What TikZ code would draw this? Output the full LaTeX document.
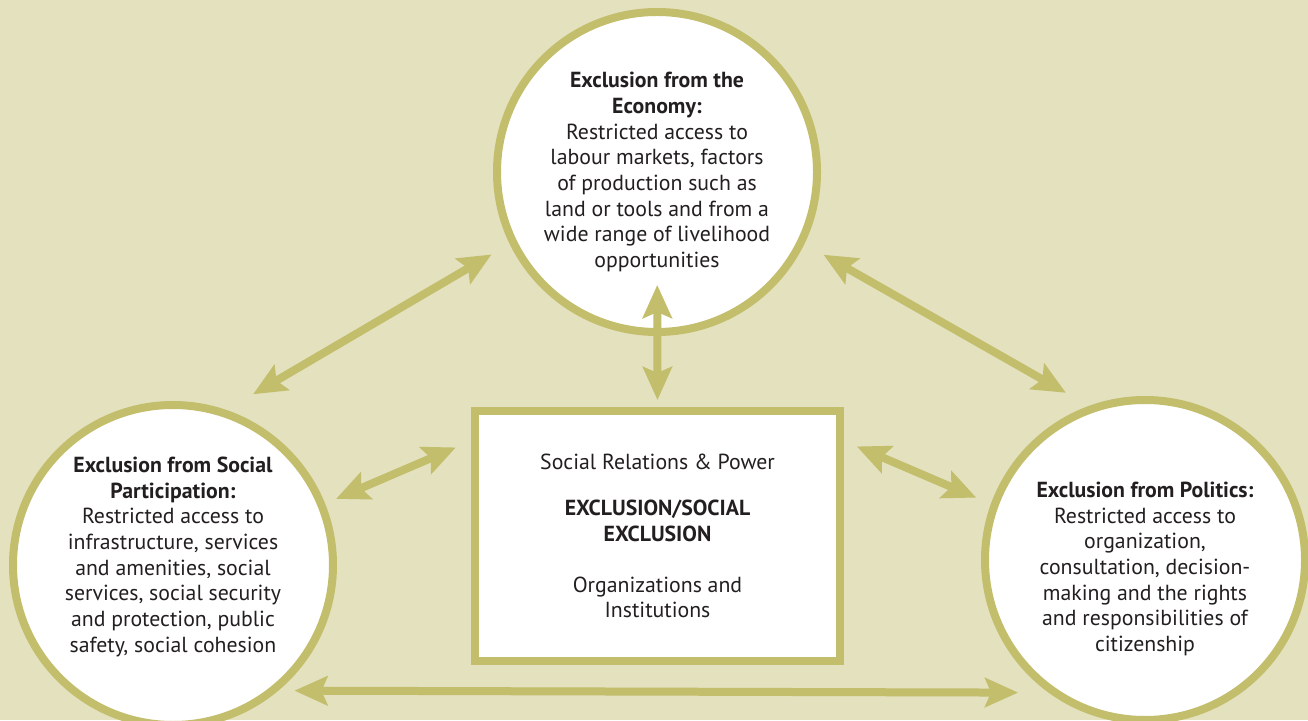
\documentclass[tikz,border=0pt]{standalone}
\usepackage{fontspec}
\setmainfont{PT Sans}
\usepackage{xcolor}
\usetikzlibrary{arrows.meta, calc, positioning}

\definecolor{paper}{HTML}{E4E1BF}
\definecolor{ring}{HTML}{C2BE6C}
\definecolor{ink}{HTML}{231F20}

\begin{document}
\begin{tikzpicture}[
    area/.style={circle, draw=ring, line width=1.6mm, fill=white, minimum size=6.4cm, inner sep=0pt, align=center, text=ink, font=\fontsize{12.4}{14.6}\selectfont},
    core/.style={rectangle, draw=ring, line width=1.6mm, fill=white, minimum width=7.3cm, minimum height=5cm, inner sep=0pt, align=center, text=ink, font=\fontsize{12.4}{14.6}\selectfont},
    link/.style={draw=ring, line width=1.6mm, {Stealth[length=6.6mm, width=5.8mm, inset=1.2mm]}-{Stealth[length=6.6mm, width=5.8mm, inset=1.2mm]}}
]
    \fill[paper] (0, 0) rectangle (26.16, 14.4);
    \useasboundingbox (0, 0) rectangle (26.16, 14.4);

    \node[area] (econ) at (13.14, 10.96) {\textbf{Exclusion from the}\\\textbf{Economy:}\\Restricted access to\\labour markets, factors\\of production such as\\land or tools and from a\\wide range of livelihood\\opportunities};
    \node[area] (social) at (3.46, 3.10) {\textbf{Exclusion from Social}\\\textbf{Participation:}\\Restricted access to\\infrastructure, services\\and amenities, social\\services, social security\\and protection, public\\safety, social cohesion\\[-0.1cm]};
    \node[area] (politics) at (22.9, 3.2) {\mbox{}\\[0.16cm]\textbf{Exclusion from Politics:}\\Restricted access to\\organization,\\consultation, decision-\\making and the rights\\and responsibilities of\\citizenship};

    \node[core] (power) at (13.15, 3.68) {Social Relations \& Power\\[0.42cm]\textbf{EXCLUSION/SOCIAL}\\\textbf{EXCLUSION}\\[0.5cm]Organizations and\\Institutions};

    \draw[link, shorten <=0.62cm, shorten >=0.42cm] (social.71) -- (econ.206);
    \draw[link, shorten <=0.44cm, shorten >=0.53cm] (econ.334.5) -- (politics.110.5);
    \draw[link, shorten <=0.14cm, shorten >=2.26cm] (power.north) -- (econ.center);
    \draw[link, shorten <=0.24cm, shorten >=0.33cm] (social.22) -- (power.153);
    \draw[link, shorten <=0.28cm, shorten >=0.32cm] (power.27) -- (politics.160);
    \draw[link, shorten <=0.32cm, shorten >=0.61cm] (social.310) -- (politics.234);
\end{tikzpicture}
\end{document}
